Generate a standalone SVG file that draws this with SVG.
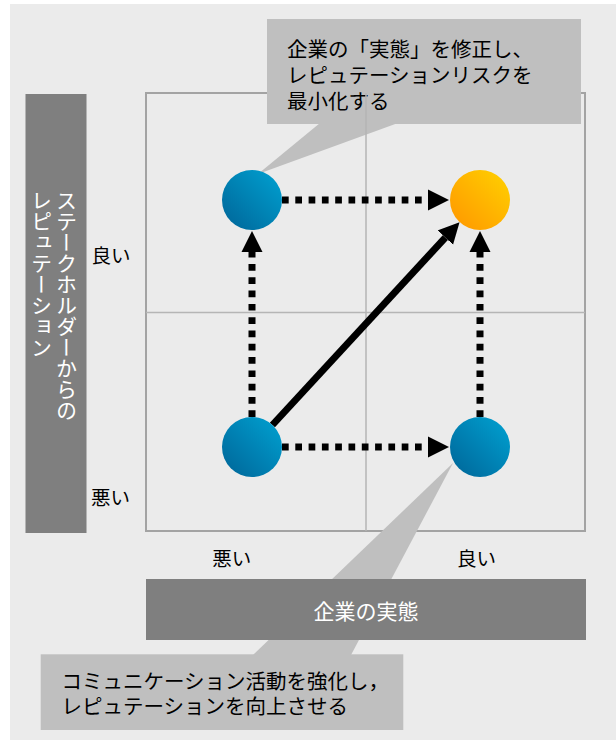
<svg xmlns="http://www.w3.org/2000/svg" width="616" height="740" viewBox="0 0 616 740">
<style>
text{font-family:"Noto Sans CJK JP","Noto Sans",sans-serif;}
.lbl{font-size:19.5px;fill:#000;}
.call{font-size:20.5px;fill:#000;}
.wht{fill:#fff;}
.vt{font-size:21px;fill:#fff;writing-mode:vertical-rl;}
.dash{stroke:#000;stroke-width:7;fill:none;stroke-dasharray:6.7 6.6;}
.solid{stroke:#000;stroke-width:7;fill:none;}
.callbox{fill:#bfbfbf;}
.bar{fill:#7f7f7f;}
</style>
<defs>
<marker id="ah" markerUnits="userSpaceOnUse" markerWidth="22" markerHeight="22" viewBox="0 -11 22 22" refX="0" refY="0" orient="auto">
<path d="M0,-10.5 L21,0 L0,10.5 z" fill="#000"/>
</marker>
<linearGradient id="gBlue" x1="1" y1="0" x2="0" y2="1">
<stop offset="0" stop-color="#00a2d2"/>
<stop offset="1" stop-color="#006497"/>
</linearGradient>
<linearGradient id="gOrange" x1="1" y1="0" x2="0" y2="1">
<stop offset="0" stop-color="#ffd200"/>
<stop offset="1" stop-color="#ff9500"/>
</linearGradient>
</defs>
<rect x="10" y="4" width="606" height="736" fill="#ebebeb"/>
<g id="frame">
<rect x="146" y="93" width="439" height="438" fill="none" stroke="#a3a3a3" stroke-width="2"/>
<line x1="146" y1="312.5" x2="585" y2="312.5" stroke="#b5b5b5" stroke-width="1.5"/>
</g>
<g id="y-axis">
<rect class="bar" x="25.5" y="94" width="61" height="439"/>
<text class="vt" x="66.5" y="190">ステークホルダーからの</text>
<text class="vt" x="41.5" y="190">レピュテーション</text>
<text class="lbl" x="91.5" y="263">良い</text>
<text class="lbl" x="91" y="505">悪い</text>
</g>
<g id="x-labels">
<text class="lbl" x="231.7" y="565.5" text-anchor="middle">悪い</text>
<text class="lbl" x="476.5" y="565.5" text-anchor="middle">良い</text>
</g>
<g id="callout-bottom">
<polygon class="callbox" points="453,463 253,655 351,655"/>
<rect class="callbox" x="40.7" y="654.3" width="362.6" height="75.7"/>
<text class="call" x="61.5" y="689">コミュニケーション活動を強化し，</text>
<text class="call" x="61.5" y="714">レピュテーションを向上させる</text>
</g>
<g id="callout-top">
<polygon class="callbox" points="258,174 320,123 398,123"/>
<rect class="callbox" x="267" y="19" width="314" height="105"/>
<text class="call" x="287" y="56.5">企業の「実態」を修正し、</text>
<text class="call" x="287" y="82.5">レピュテーションリスクを</text>
<text class="call" x="287" y="108.5">最小化する</text>
</g>
<line id="mid-v" x1="366" y1="93" x2="366" y2="531" stroke="#b5b5b5" stroke-width="1.5"/>
<g id="x-axis">
<rect class="bar" x="146" y="579" width="440" height="61"/>
<text class="wht" x="366" y="619" text-anchor="middle" font-size="21">企業の実態</text>
</g>
<g id="connectors">
<line class="dash" x1="282" y1="200" x2="428" y2="200" marker-end="url(#ah)"/>
<line class="dash" x1="282" y1="447" x2="428" y2="447" marker-end="url(#ah)"/>
<line class="dash" x1="252" y1="417" x2="252" y2="252" marker-end="url(#ah)"/>
<line class="dash" x1="480" y1="417" x2="480" y2="252" marker-end="url(#ah)"/>
<line class="solid" x1="272.4" y1="425" x2="445.3" y2="237.6" marker-end="url(#ah)"/>
</g>
<g id="node-tl"><circle cx="252" cy="200" r="30" fill="url(#gBlue)"/></g>
<g id="node-tr"><circle cx="480" cy="200" r="30" fill="url(#gOrange)"/></g>
<g id="node-bl"><circle cx="252" cy="447" r="30" fill="url(#gBlue)"/></g>
<g id="node-br"><circle cx="480" cy="447" r="30" fill="url(#gBlue)"/></g>
</svg>
